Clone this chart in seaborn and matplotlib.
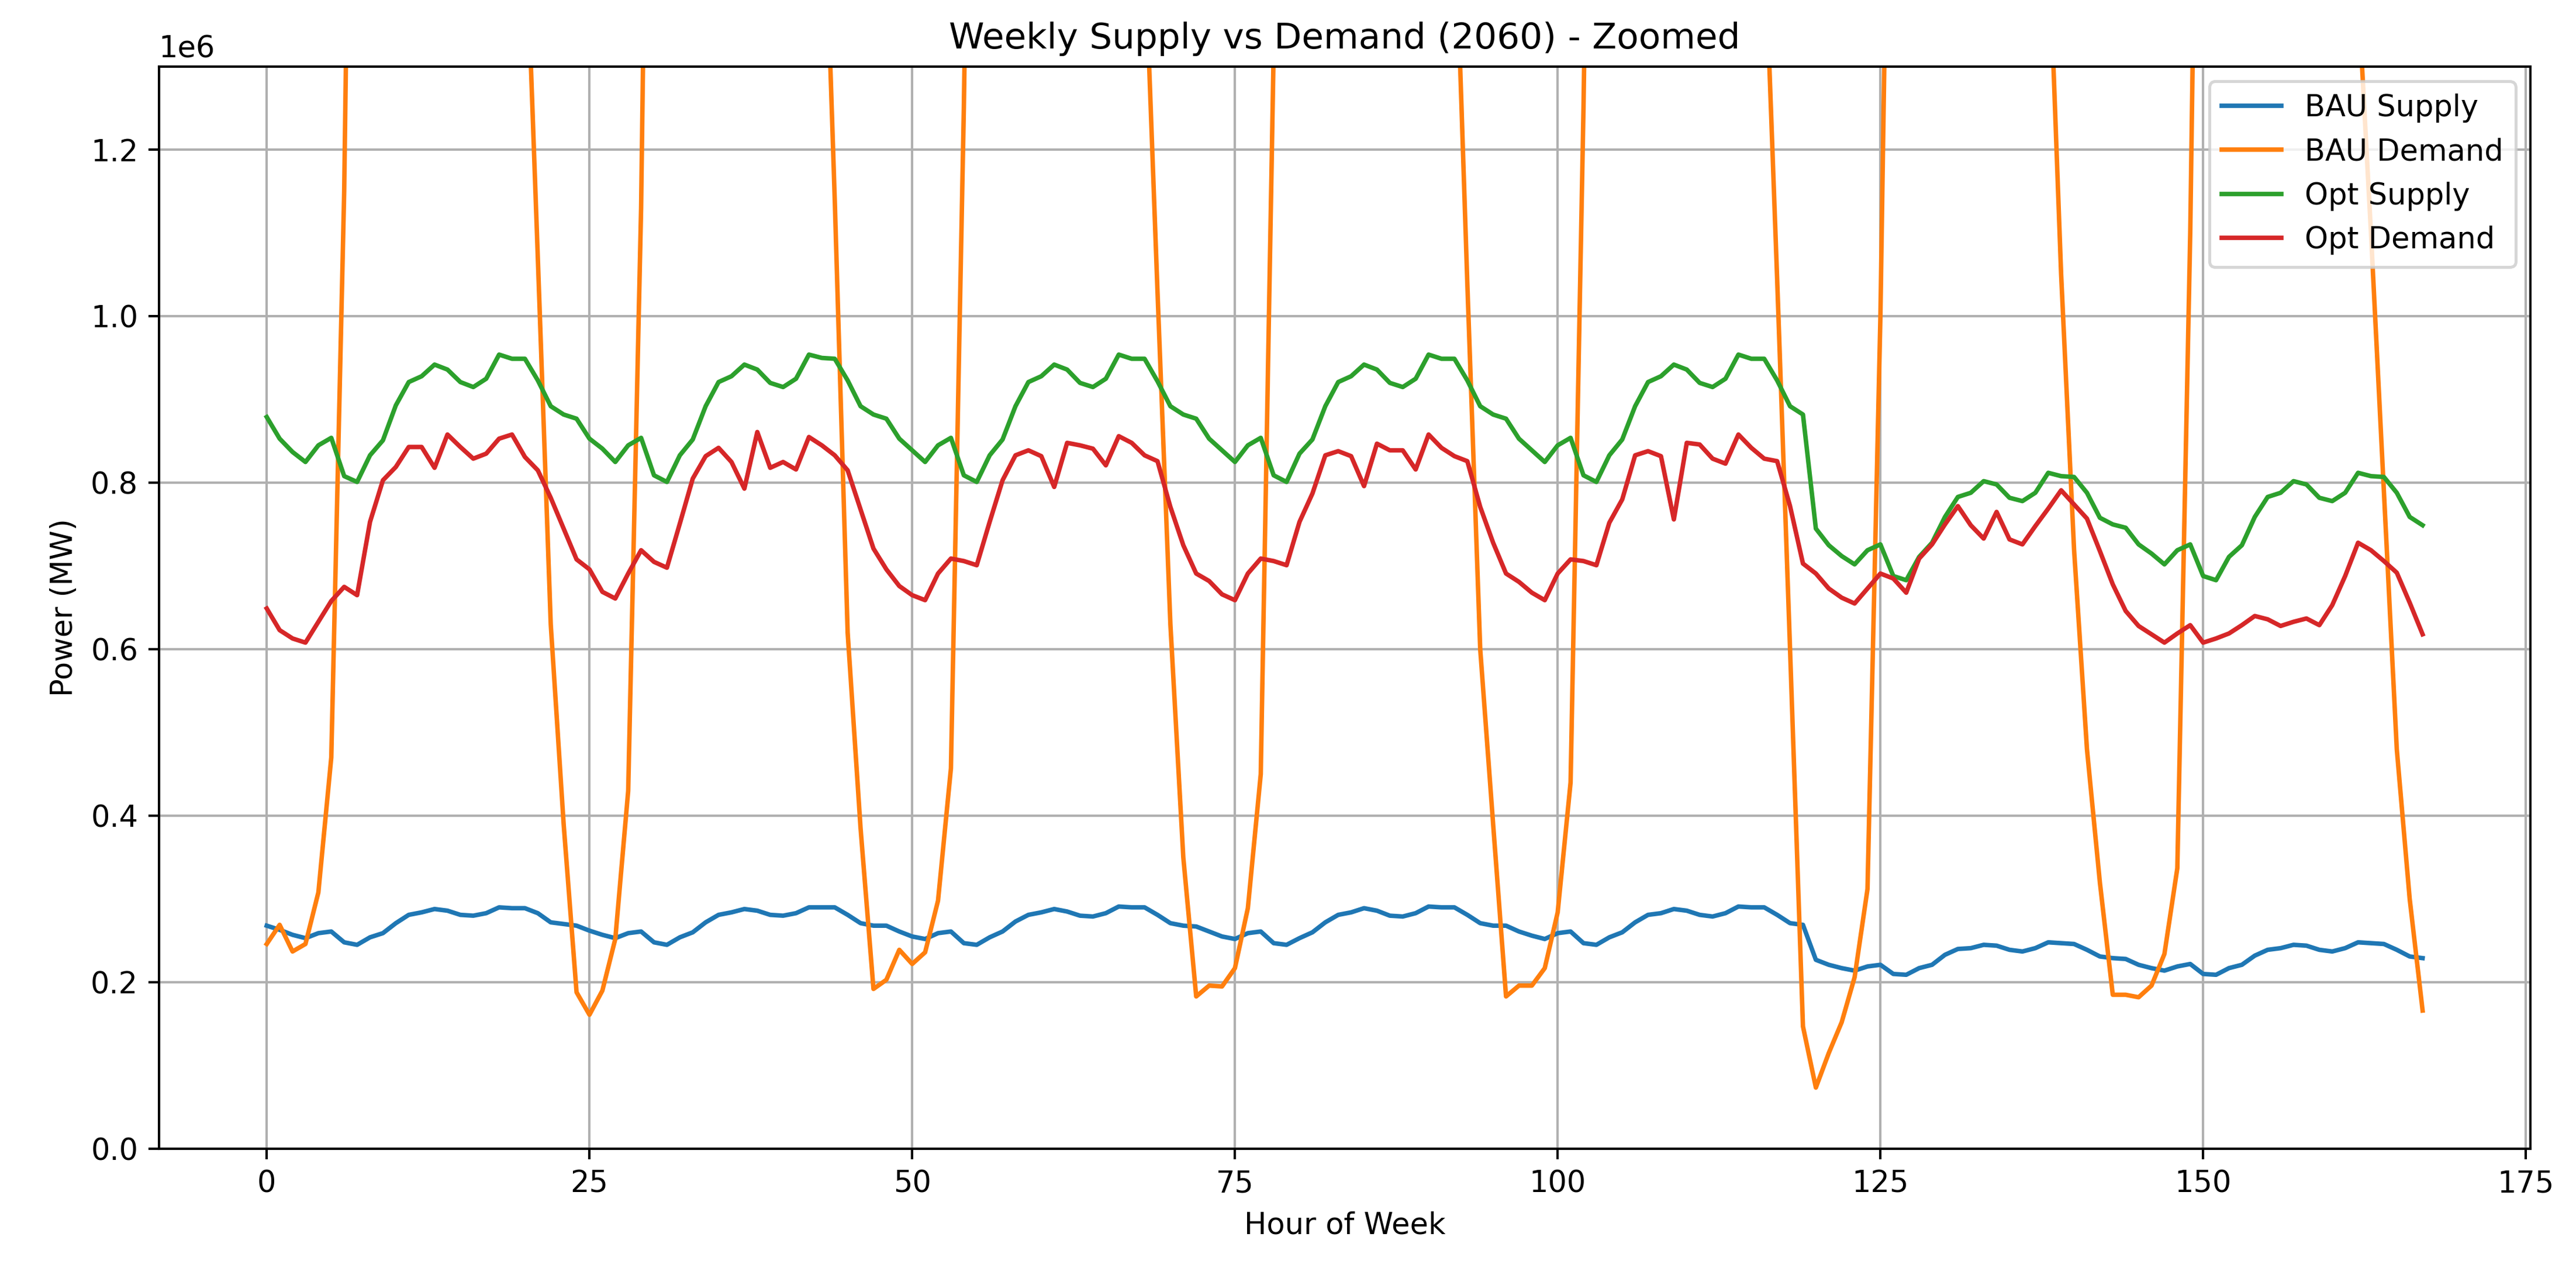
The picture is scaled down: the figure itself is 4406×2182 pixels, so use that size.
import numpy as np
import pandas as pd
import matplotlib
matplotlib.use("Agg")
import matplotlib.pyplot as plt
import seaborn as sns

# ---------------- data (MW), hour 0..167 ----------------
hours = list(range(168))

bau_supply = [
    268000, 263000, 257000, 253000, 259000, 261000, 248000, 245000, 254000, 259000, 271000, 281000,
    284000, 288000, 286000, 281000, 280000, 283000, 290000, 289000, 289000, 283000, 272000, 270000,
    268000, 262000, 257000, 253000, 259000, 261000, 248000, 245000, 254000, 260000, 272000, 281000,
    284000, 288000, 286000, 281000, 280000, 283000, 290000, 290000, 290000, 281000, 271000, 268000,
    268000, 261000, 255000, 252000, 259000, 261000, 247000, 245000, 254000, 261000, 273000, 281000,
    284000, 288000, 285000, 280000, 279000, 283000, 291000, 290000, 290000, 281000, 271000, 268000,
    267000, 261000, 255000, 252000, 259000, 261000, 247000, 245000, 253000, 260000, 272000, 281000,
    284000, 289000, 286000, 280000, 279000, 283000, 291000, 290000, 290000, 281000, 271000, 268000,
    268000, 261000, 256000, 252000, 259000, 261000, 247000, 245000, 254000, 260000, 272000, 281000,
    283000, 288000, 286000, 281000, 279000, 283000, 291000, 290000, 290000, 281000, 271000, 269000,
    227000, 221000, 217000, 214000, 219000, 221000, 210000, 209000, 217000, 221000, 233000, 240000,
    241000, 245000, 244000, 239000, 237000, 241000, 248000, 247000, 246000, 239000, 231000, 229000,
    228000, 221000, 217000, 214000, 219000, 222000, 210000, 209000, 217000, 221000, 232000, 239000,
    241000, 245000, 244000, 239000, 237000, 241000, 248000, 247000, 246000, 239000, 231000, 229000,
]

bau_demand = [
    246000, 269000, 237000, 246000, 308000, 470000, 1150000, 2300000, 2800000, 3100000, 3300000, 3400000,
    3400000, 3300000, 3350000, 3300000, 3250000, 3300000, 3200000, 2400000, 1500000, 1070000, 630000, 390000,
    188000, 161000, 190000, 252000, 430000, 1130000, 2300000, 2800000, 3100000, 3300000, 3400000, 3400000,
    3300000, 3350000, 3300000, 3250000, 3300000, 3200000, 2450000, 1610000, 1140000, 620000, 385000, 192000,
    203000, 239000, 222000, 236000, 298000, 457000, 1250000, 2300000, 2800000, 3100000, 3300000, 3400000,
    3400000, 3300000, 3350000, 3300000, 3250000, 3300000, 3200000, 2400000, 1450000, 1030000, 630000, 350000,
    183000, 196000, 195000, 217000, 289000, 450000, 1320000, 2300000, 2800000, 3100000, 3300000, 3400000,
    3400000, 3300000, 3350000, 3300000, 3250000, 3300000, 3200000, 2400000, 1510000, 1040000, 600000, 390000,
    183000, 196000, 196000, 217000, 284000, 440000, 1250000, 2300000, 2800000, 3100000, 3300000, 3400000,
    3400000, 3300000, 3350000, 3300000, 3250000, 3300000, 3200000, 2400000, 1470000, 1045000, 600000, 147000,
    73500, 115000, 152000, 206000, 312000, 1000000, 2000000, 2500000, 2800000, 2900000, 3000000, 3000000,
    2900000, 2900000, 2850000, 2800000, 2600000, 2100000, 1470000, 1050000, 720000, 480000, 320000, 185000,
    185000, 182000, 196000, 234000, 337000, 1100000, 2200000, 2500000, 2800000, 2900000, 3000000, 3000000,
    2900000, 2900000, 2850000, 2800000, 2600000, 2100000, 1390000, 1100000, 790000, 480000, 300000, 166000,
]

opt_supply = [
    879000, 853000, 837000, 825000, 845000, 854000, 808000, 801000, 833000, 851000, 893000, 921000,
    928000, 942000, 936000, 921000, 915000, 925000, 954000, 949000, 949000, 923000, 892000, 882000,
    877000, 853000, 841000, 825000, 845000, 854000, 809000, 801000, 833000, 852000, 892000, 921000,
    928000, 942000, 936000, 920000, 915000, 925000, 954000, 950000, 949000, 923000, 892000, 882000,
    877000, 853000, 839000, 825000, 845000, 854000, 809000, 801000, 833000, 852000, 892000, 921000,
    928000, 942000, 936000, 920000, 915000, 925000, 954000, 949000, 949000, 922000, 892000, 882000,
    877000, 853000, 839000, 825000, 845000, 854000, 809000, 801000, 835000, 852000, 892000, 921000,
    928000, 942000, 936000, 920000, 915000, 925000, 954000, 949000, 949000, 923000, 892000, 882000,
    877000, 853000, 839000, 825000, 845000, 854000, 809000, 801000, 833000, 852000, 892000, 921000,
    928000, 942000, 936000, 920000, 915000, 925000, 954000, 949000, 949000, 923000, 892000, 882000,
    745000, 725000, 712000, 702000, 719000, 726000, 688000, 683000, 711000, 728000, 759000, 783000,
    788000, 802000, 798000, 782000, 778000, 788000, 812000, 808000, 807000, 788000, 758000, 750000,
    746000, 726000, 715000, 702000, 719000, 726000, 688000, 683000, 711000, 725000, 759000, 783000,
    788000, 802000, 798000, 782000, 778000, 788000, 812000, 808000, 807000, 788000, 759000, 749000,
]

opt_demand = [
    649000, 623000, 613000, 608000, 633000, 658000, 675000, 665000, 753000, 803000, 819000, 843000,
    843000, 818000, 858000, 843000, 829000, 835000, 853000, 858000, 831000, 815000, 782000, 745000,
    708000, 696000, 669000, 661000, 691000, 719000, 705000, 698000, 751000, 805000, 832000, 842000,
    825000, 793000, 861000, 818000, 825000, 816000, 855000, 845000, 833000, 815000, 768000, 721000,
    696000, 676000, 665000, 659000, 691000, 709000, 706000, 701000, 753000, 803000, 833000, 839000,
    832000, 795000, 848000, 845000, 841000, 821000, 856000, 848000, 833000, 826000, 771000, 725000,
    691000, 682000, 666000, 659000, 691000, 709000, 706000, 701000, 753000, 787000, 833000, 838000,
    832000, 796000, 847000, 839000, 839000, 816000, 858000, 842000, 832000, 826000, 771000, 728000,
    691000, 681000, 668000, 659000, 691000, 708000, 706000, 701000, 752000, 780000, 833000, 838000,
    832000, 756000, 848000, 846000, 829000, 823000, 858000, 842000, 829000, 826000, 772000, 703000,
    691000, 673000, 662000, 655000, 673000, 691000, 685000, 668000, 709000, 726000, 750000, 772000,
    749000, 733000, 765000, 732000, 726000, 748000, 769000, 791000, 774000, 757000, 718000, 678000,
    646000, 628000, 618000, 608000, 619000, 629000, 608000, 613000, 619000, 629000, 640000, 636000,
    628000, 633000, 637000, 629000, 653000, 688000, 728000, 719000, 706000, 692000, 656000, 618000,
]

series_names = ["BAU Supply", "BAU Demand", "Opt Supply", "Opt Demand"]
series_colors = ["tab:blue", "tab:orange", "tab:green", "tab:red"]
title_text = "Weekly Supply vs Demand (2060) - Zoomed"
x_label = "Hour of Week"
y_label = "Power (MW)"
y_limits = (0, 1.3e6)

# ---------------- figure ----------------
DPI = 367.2
fig = plt.figure(figsize=(4406 / DPI, 2182 / DPI), dpi=DPI)
ax = fig.add_axes([0.0617, 0.099, 0.9823 - 0.0617, 0.9478 - 0.099])

all_series = [bau_supply, bau_demand, opt_supply, opt_demand]
for name, col, vals in zip(series_names, series_colors, all_series):
    df = pd.DataFrame({"hour": hours, "power": vals})
    sns.lineplot(data=df, x="hour", y="power", ax=ax, color=col, label=name,
                 linewidth=1.5, estimator=None, sort=False)

ax.set_ylim(*y_limits)
ax.set_title(title_text, fontsize=12)
ax.set_xlabel(x_label, fontsize=10)
ax.set_ylabel(y_label, fontsize=10)
ax.grid(True)
ax.legend(loc="upper right", fontsize=10)

fig.savefig("out.png", dpi=DPI)
